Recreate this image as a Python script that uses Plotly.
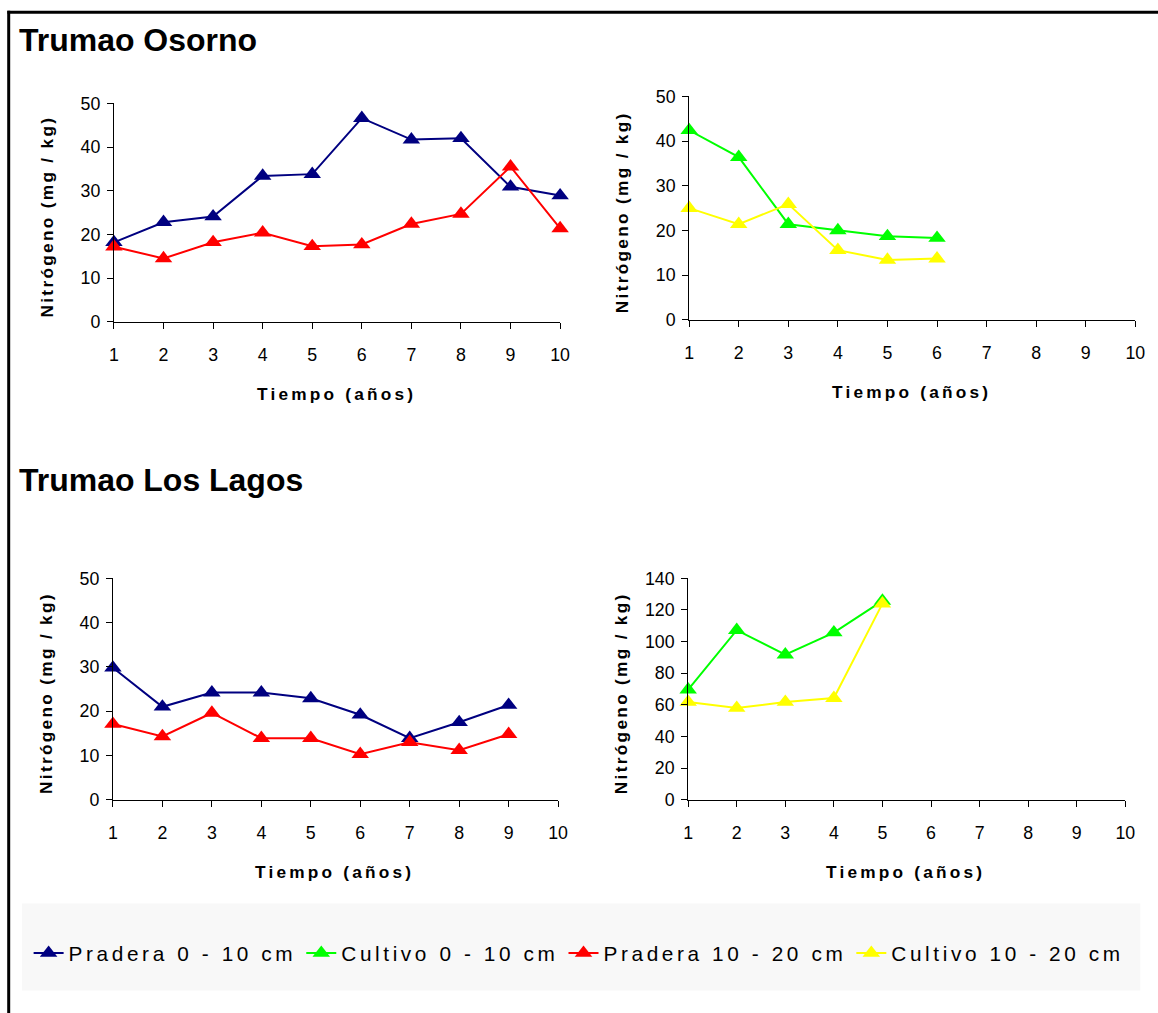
import plotly.graph_objects as go

# The captured picture shows the page through a fixed transform
# (screen = scale * page + offset), measured from earlier renders.
# All positions below are given in picture pixels and converted back.
SX, CX = 0.9868, 5.1
SY, CY = 0.9826, 7.47
SF = (SX + SY) / 2
W = 1169
H = 1024

# ---------------- data ----------------
years = [1, 2, 3, 4, 5, 6, 7, 8, 9, 10]
x_ticks = [1, 2, 3, 4, 5, 6, 7, 8, 9, 10]

osorno_pradera_0_10 = [18.2, 22.8, 24.1, 33.4, 33.8, 46.6, 41.7, 42.0, 30.9, 28.9]
osorno_pradera_10_20 = [17.2, 14.5, 18.2, 20.4, 17.3, 17.7, 22.4, 24.7, 35.5, 21.4]
osorno_cultivo_0_10 = [42.4, 36.4, 21.4, 20.0, 18.7, 18.3]
osorno_cultivo_10_20 = [25.0, 21.4, 25.9, 15.6, 13.4, 13.7]

lagos_pradera_0_10 = [29.8, 21.0, 24.2, 24.2, 22.9, 19.2, 13.9, 17.5, 21.4]
lagos_pradera_10_20 = [17.1, 14.3, 19.6, 13.9, 13.9, 10.3, 13.0, 11.2, 14.8]
lagos_cultivo_0_10 = [69.6, 107.2, 91.7, 105.7, 125.7]
lagos_cultivo_10_20 = [61.8, 58.0, 61.8, 64.3, 124.0]

series_names = ["Pradera 0 - 10 cm", "Cultivo 0 - 10 cm",
                "Pradera 10 - 20 cm", "Cultivo 10 - 20 cm"]
series_colors = ["#000080", "#00FF00", "#FF0000", "#FFFF00"]

section_titles = ["Trumao Osorno", "Trumao Los Lagos"]
x_title = "Tiempo (años)"
y_title = "Nitrógeno (mg / kg)"

# ---------------- helpers ----------------
def px_x(p):
    return ((p - CX) / SX) / W

def px_y(p):
    return 1 - ((p - CY) / SY) / H

def fs(v):
    return v / SF

FONT = "Arial, Liberation Sans, sans-serif"

# axis boxes (picture px): (x of value 1, x of value 10, y of top value, y of 0)
boxes = {
    1: (114, 560, 101, 320),
    2: (689, 1135, 94, 318),
    3: (113, 558, 577, 799),
    4: (688, 1125, 577, 799),
}
yranges = {1: (0, 50, 10), 2: (0, 50, 10), 3: (0, 50, 10), 4: (0, 140, 20)}

fig = go.Figure()

def add(name_idx, xs, ys, axis, show):
    c = series_colors[name_idx]
    suffix = "" if axis == 1 else str(axis)
    fig.add_trace(go.Scatter(
        x=xs, y=ys, mode="lines+markers",
        name='<span style="letter-spacing:3.6px">%s</span>' % series_names[name_idx],
        legendgroup=series_names[name_idx],
        showlegend=show,
        line=dict(color=c, width=2),
        marker=dict(symbol="triangle-up", size=fs(15), color=c),
        cliponaxis=False,
        xaxis="x" + suffix, yaxis="y" + suffix,
    ))

add(0, years[:len(osorno_pradera_0_10)], osorno_pradera_0_10, 1, True)
add(1, years[:len(osorno_cultivo_0_10)], osorno_cultivo_0_10, 2, True)
add(2, years[:len(osorno_pradera_10_20)], osorno_pradera_10_20, 1, True)
add(3, years[:len(osorno_cultivo_10_20)], osorno_cultivo_10_20, 2, True)
add(0, years[:len(lagos_pradera_0_10)], lagos_pradera_0_10, 3, False)
add(2, years[:len(lagos_pradera_10_20)], lagos_pradera_10_20, 3, False)
add(1, years[:len(lagos_cultivo_0_10)], lagos_cultivo_0_10, 4, False)
add(3, years[:len(lagos_cultivo_10_20)], lagos_cultivo_10_20, 4, False)

layout = dict(
    width=W, height=H,
    margin=dict(l=0, r=0, t=0, b=0),
    paper_bgcolor="white", plot_bgcolor="rgba(0,0,0,0)",
    font=dict(family=FONT, size=fs(17), color="black"),
    showlegend=True,
    legend=dict(orientation="h", x=px_x(579), xanchor="center",
                y=px_y(953), yanchor="middle",
                font=dict(family=FONT, size=fs(20.5), color="black"),
                bgcolor="rgba(0,0,0,0)", itemwidth=30,
                tracegroupgap=0),
)

annotations = []
for k, (x1, x10, yt, y0) in boxes.items():
    suffix = "" if k == 1 else str(k)
    lo, hi, dt = yranges[k]
    layout["xaxis" + suffix] = dict(
        domain=[px_x(x1), px_x(x10)], range=[1, 10],
        tickmode="array", tickvals=x_ticks, ticktext=[str(v) for v in x_ticks],
        showgrid=False, zeroline=False, showline=True, linecolor="#000",
        linewidth=1, ticks="outside", ticklen=6, tickcolor="#000",
        tickfont=dict(size=fs(17.5), family=FONT, color="black"),
        ticklabelstandoff=11,
        anchor="y" + suffix, fixedrange=True,
    )
    layout["yaxis" + suffix] = dict(
        domain=[px_y(y0), px_y(yt)], range=[lo, hi], dtick=dt, tick0=0,
        showgrid=False, zeroline=False, showline=True, linecolor="#000",
        linewidth=1, ticks="outside", ticklen=6, tickcolor="#000",
        tickfont=dict(size=fs(17.5), family=FONT, color="black"),
        ticklabelstandoff=3,
        anchor="x" + suffix, fixedrange=True,
    )
    # axis titles
    xc = (x1 + x10) / 2 - 1
    annotations.append(dict(
        text='<span style="letter-spacing:3.2px">%s</span>' % x_title,
        xref="paper", yref="paper", x=px_x(xc), y=px_y(y0 + 72),
        xanchor="center", yanchor="middle", showarrow=False,
        font=dict(family=FONT, size=fs(17), color="black", weight="bold"),
    ))
    annotations.append(dict(
        text='<span style="letter-spacing:2.3px">%s</span>' % y_title,
        xref="paper", yref="paper", x=px_x(x1 - 67), y=px_y((yt + y0) / 2 + 4),
        xanchor="center", yanchor="middle", showarrow=False, textangle=-90,
        font=dict(family=FONT, size=fs(17), color="black", weight="bold"),
    ))

annotations.append(dict(
    text=section_titles[0], xref="paper", yref="paper",
    x=px_x(17), y=px_y(38), xanchor="left", yanchor="middle", showarrow=False,
    font=dict(family=FONT, size=fs(31.5), color="black", weight="bold"),
))
annotations.append(dict(
    text=section_titles[1], xref="paper", yref="paper",
    x=px_x(17), y=px_y(478), xanchor="left", yanchor="middle", showarrow=False,
    font=dict(family=FONT, size=fs(31.5), color="black", weight="bold"),
))
layout["annotations"] = annotations

layout["shapes"] = [
    dict(type="rect", xref="paper", yref="paper", layer="below",
         x0=px_x(22), x1=px_x(1140), y0=px_y(990), y1=px_y(903),
         fillcolor="#F8F8F8", line=dict(width=0)),
    # outer frame: only its top and left edges fall inside the picture
    dict(type="line", xref="paper", yref="paper", layer="above",
         x0=px_x(7.5), x1=1, y0=px_y(9.7), y1=px_y(9.7),
         line=dict(color="black", width=3)),
    dict(type="line", xref="paper", yref="paper", layer="above",
         x0=px_x(8.8), x1=px_x(8.8), y0=px_y(8.3), y1=0,
         line=dict(color="black", width=3)),
]

fig.update_layout(**layout)
fig.write_html(
    "out.html",
    config={"displayModeBar": False},
    post_script="document.body.style.margin='0';document.body.style.overflow='hidden';",
)
